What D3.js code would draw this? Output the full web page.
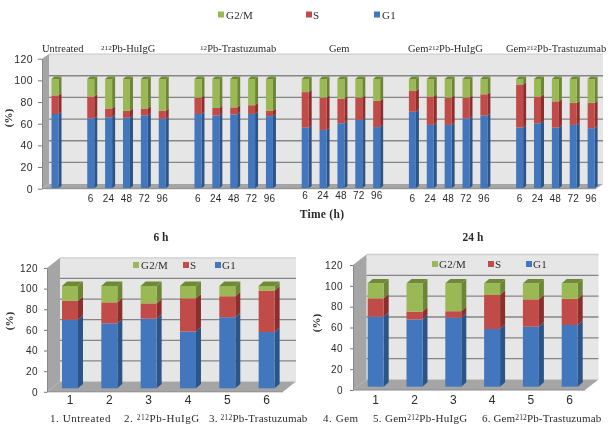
<!DOCTYPE html>
<html><head><meta charset="utf-8">
<script src="https://cdn.jsdelivr.net/npm/d3@7"></script>
<style>
html,body{margin:0;padding:0;background:#fff}
svg{display:block;filter:blur(.35px)}
text{font-family:"Liberation Serif",serif;fill:#2b2b2b}
.sans text,text.sans{font-family:"Liberation Sans",sans-serif}
</style></head><body>
<svg id="c" width="614" height="430"></svg>
<script>
// ---------- data ----------
const seriesNames = ["G1","S","G2/M"];
const timeLabels = ["","", "6","24","48","72","96","", "6","24","48","72","96","", "6","24","48","72","96","", "6","24","48","72","96","", "6","24","48","72","96"];
const timeG1 = [68,null,64,65,64.5,66.5,63.5,null,68,66.5,67.7,68,66,null,55.5,53.4,59.5,62.5,56,null,70,58,58,64,66.5,null,55.5,59.5,55.5,58,55];
const timeS  = [17,null,20,8,6.5,6.5,7.5,null,15,7,6.3,8,5,null,32.5,29.6,22.5,20.5,24,null,19,26,25,19,19.5,null,39.5,24.5,24,20,23];
const timeG2 = [15,null,16,27,29,27,29,null,17,26.5,26,24,29,null,12,17,18,17,20,null,11,16,17,17,14,null,5,16,20.5,22,22];
const groupTitles = ["Untreated","212Pb-HuIgG","12Pb-Trastuzumab","Gem","Gem212Pb-HuIgG","Gem212Pb-Trastuzumab"];
const panelCats = ["1","2","3","4","5","6"];
const h6G1 = [67,63.5,68,55.5,69.5,55];
const h6S  = [18.5,20.5,15,32.5,20.5,40.5];
const h6G2 = [14.5,16,17,12,10,4.5];
const h24G1 = [67.7,65,66.8,55.8,58,59.7];
const h24S  = [17.8,7.6,6.2,32.9,26.5,25.3];
const h24G2 = [14.5,27.4,27,11.3,15.5,15];
const yTicks = [0,20,40,60,80,100,120];
const captions6 = ["1. Untreated","2. 212Pb-HuIgG","3. 212Pb-Trastuzumab"];
const captions24 = ["4. Gem","5. Gem212Pb-HuIgG","6. Gem212Pb-Trastuzumab"];

// ---------- styles ----------
const fills = {front:["#4377bd","#c04b48","#9ab853"],side:["#2c5486","#8b2f2d","#6d8636"],top:"#6f8a36"};
const svg = d3.select("#c");

function rich(sel, str, size){
  str.split(/(212(?=Pb)|12(?=Pb))/).forEach(p=>{
    if(!p) return;
    const sup = /^(212|12)$/.test(p);
    sel.append("tspan").text(p).attr("font-size",sup?size*0.68:size).attr("baseline-shift",sup?"35%":null);
  });
}
function label(str,x,y,size,opt={}){
  const t = svg.append("text").attr("x",x).attr("y",y).attr("letter-spacing",opt.ls||0)
    .attr("text-anchor",opt.anchor||"start").attr("font-weight",opt.bold?"bold":null).attr("font-size",size);
  rich(t,str,size);
  return t;
}
function legend(items){
  items.forEach(d=>{
    svg.append("rect").attr("x",d.x).attr("y",d.y-3).attr("width",6).attr("height",6).attr("fill",fills.front[d.s]);
    label(seriesNames[d.s],d.x+d.gap,d.y+4,d.size||11,{ls:.2});
  });
}

function chart(c){
  const y = d3.scaleLinear().domain([0,120]).range([c.y0,c.y120]);
  const back = v=>y(v)-c.dy;
  const g = svg.append("g");
  // walls
  g.append("polygon").attr("fill","#e6e6e6")
    .attr("points",[[c.x0+c.dx,back(0)],[c.x1+c.dx,back(0)],[c.x1+c.dx,back(120)],[c.x0+c.dx,back(120)]].join(" "));
  g.append("polygon").attr("fill","#a5a5a5")
    .attr("points",[[c.x0,y(0)],[c.x0+c.dx,back(0)],[c.x0+c.dx,back(120)],[c.x0,y(120)]].join(" "));
  g.append("polygon").attr("fill","#a5a5a5")
    .attr("points",[[c.x0,y(0)],[c.x1,y(0)],[c.x1+c.dx,back(0)],[c.x0+c.dx,back(0)]].join(" "));
  // grid
  g.selectAll(".gl").data(yTicks.filter(v=>v>0)).join("line")
    .attr("x1",c.x0+c.dx).attr("x2",c.x1+c.dx).attr("y1",back).attr("y2",back)
    .attr("stroke",d=>d===120?"#cfcfcf":"#858585").attr("stroke-width",1.3);
  // y axis
  const ya = svg.append("g").attr("class","sans").attr("transform",`translate(${c.x0},0)`)
    .call(d3.axisLeft(y).tickValues(yTicks).tickSize(c.tick).tickPadding(c.pad).tickSizeOuter(0));
  ya.select(".domain").attr("stroke","#888");
  ya.selectAll("line").attr("stroke","#777");
  ya.selectAll("text").attr("font-size",c.yFont).attr("fill","#333").attr("letter-spacing",.4);
  // bars
  const x = d3.scaleBand().domain(d3.range(c.g1.length)).range([c.bx0,c.bx1]);
  const yb = d3.scaleLinear().domain([0,100]).range([c.by0,c.by100]);
  c.g1.forEach((v,i)=>{
    if(v===null) return;
    const cx = x(i)+x.bandwidth()/2, l = cx-c.bw/2, r = cx+c.bw/2;
    let acc = 0;
    [c.g1[i],c.s[i],c.g2[i]].forEach((val,k)=>{
      const yA = yb(acc), yB = yb(acc+val);
      g.append("polygon").attr("fill",fills.side[k])
        .attr("points",[[r,yA],[r+c.bdx,yA-c.bdy],[r+c.bdx,yB-c.bdy],[r,yB]].join(" "));
      g.append("rect").attr("x",l).attr("y",yB).attr("width",c.bw).attr("height",yA-yB).attr("fill",fills.front[k]);
      acc += val;
    });
    const yT = yb(acc);
    g.append("polygon").attr("fill",fills.top)
      .attr("points",[[l,yT],[r,yT],[r+c.bdx,yT-c.bdy],[l+c.bdx,yT-c.bdy]].join(" "));
  });
  // x axis
  const shown = d3.range(c.g1.length).filter(i=>c.labels[i]!=="");
  const xa = svg.append("g").attr("class","sans").attr("transform",`translate(0,${c.y0})`)
    .call(d3.axisBottom(x).tickValues(shown).tickFormat(i=>c.labels[i]).tickSize(0).tickPadding(c.xPad));
  xa.select(".domain").attr("stroke","#8a8a8a").attr("d",`M${c.x0},0H${c.x1}`);
  xa.selectAll("text").attr("font-size",c.xFont).attr("fill","#333").attr("letter-spacing",c.xLs||0)
    .attr("dy",(i)=>c.raise&&c.raise(i)?"0.4em":"0.71em");
  if(c.ylabel) label("(%)",0,0,c.ylabel.size,{bold:true,anchor:"middle"})
    .attr("transform",`translate(${c.ylabel.x},${c.ylabel.y}) rotate(-90)`).attr("x",0).attr("y",0);
}

// ---------- top chart ----------
chart({x0:42,x1:596,y0:188.7,y120:58.7,dx:7,dy:4.6,tick:4,pad:5,yFont:10.5,xFont:10,xPad:6,xLs:.2,
  g1:timeG1,s:timeS,g2:timeG2,labels:timeLabels,
  bx0:46.07,bx1:46.07+31*17.87,bw:7,bdx:3,bdy:2.4,by0:188.3,by100:79,
  raise:i=>i>=14&&i<=18,
  ylabel:{x:12,y:118,size:11}});
const titleX=[42,101,200,329,408,506];
groupTitles.forEach((t,i)=>label(t,titleX[i],52,10.5,{ls:0}));
legend([{s:2,x:218,y:14.5,gap:8},{s:1,x:306,y:14.5,gap:7},{s:0,x:374,y:14.5,gap:8}]);
label("Time (h)",322,218,11.5,{bold:true,anchor:"middle",ls:.3});

// ---------- 6 h ----------
chart({x0:47,x1:283,y0:391.8,y120:268,dx:13,dy:10.2,tick:3,pad:6,yFont:10,xFont:12,xPad:4,
  g1:h6G1,s:h6S,g2:h6G2,labels:panelCats,
  bx0:50.33,bx1:286.3,bw:16,bdx:5,bdy:4.4,by0:388.3,by100:286,
  ylabel:{x:13,y:321,size:11}});
label("6 h",161,241,11.5,{bold:true,anchor:"middle"});
legend([{s:2,x:133,y:265,gap:8},{s:1,x:183,y:265,gap:7},{s:0,x:215,y:265,gap:7}]);
label(captions6[0],50,422,11,{ls:.55});
label(captions6[1],124,422,11,{ls:.55});
label(captions6[2],209,422,11,{ls:.2});

// ---------- 24 h ----------
chart({x0:353,x1:585,y0:390,y120:265,dx:13.5,dy:10.5,tick:3,pad:7,yFont:10,xFont:12,xPad:5,
  g1:h24G1,s:h24S,g2:h24G2,labels:panelCats,
  bx0:356.3,bx1:589.1,bw:16,bdx:5,bdy:4.4,by0:386.7,by100:283.3,
  ylabel:{x:320,y:323,size:11}});
label("24 h",473,241,11.5,{bold:true,anchor:"middle"});
legend([{s:2,x:432,y:264,gap:7},{s:1,x:488,y:264,gap:7},{s:0,x:526,y:264,gap:7}]);
label(captions24[0],323,422,11,{ls:.55});
label(captions24[1],373,422,11,{ls:.3});
label(captions24[2],482,422,11,{ls:.15});
</script>
</body></html>
